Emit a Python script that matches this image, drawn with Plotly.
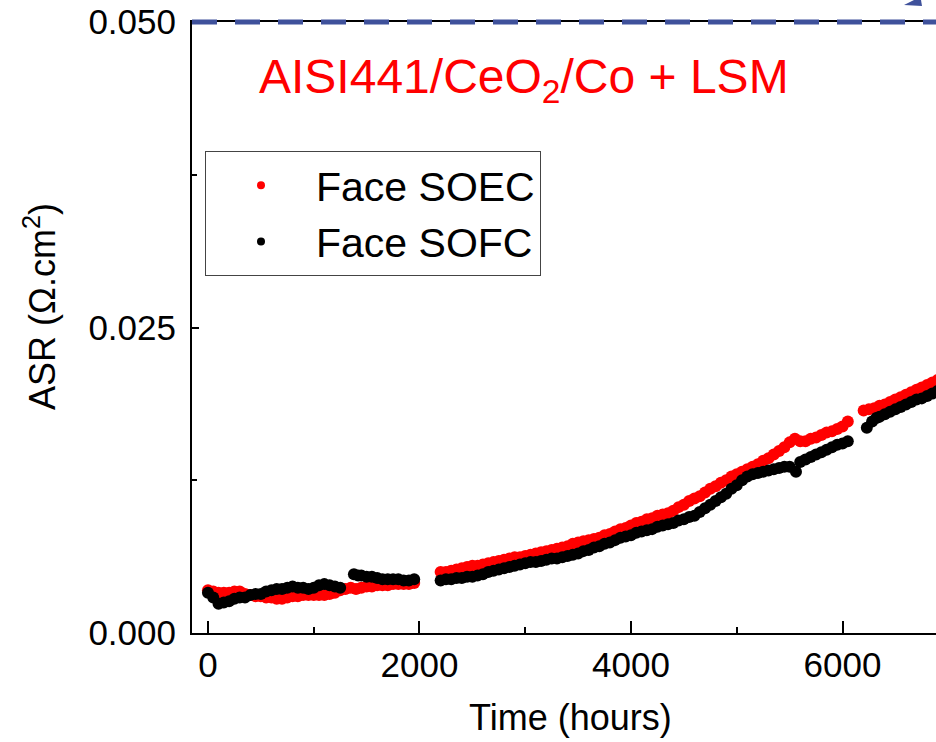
import plotly.graph_objects as go

# ---- data ----
soec_time = [0, 50, 100, 150, 200, 250, 300, 350, 400, 450, 500, 550, 600, 650, 700, 750, 800, 850,
             900, 950, 1000, 1050, 1100, 1150, 1200, 1250, 1300, 1350, 1400, 1450, 1500, 1550, 1600,
             1650, 1700, 1750, 1800, 1850, 1900, 1950,
             2200, 2250, 2300, 2350, 2400, 2450, 2500, 2550, 2600, 2650, 2700, 2750, 2800, 2850,
             2900, 2950, 3000, 3050, 3100, 3150, 3200, 3250, 3300, 3350, 3400, 3450, 3500, 3550,
             3600, 3650, 3700, 3750, 3800, 3850, 3900, 3950, 4000, 4050, 4100, 4150, 4200, 4250,
             4300, 4350, 4400, 4450, 4500, 4550, 4600, 4650, 4700, 4750, 4800, 4850, 4900, 4950,
             5000, 5050, 5100, 5150, 5200, 5250, 5300, 5350, 5400, 5450, 5500, 5550, 5600, 5650,
             5700, 5750, 5800, 5850, 5900, 5950, 6000, 6050,
             6200, 6250, 6300, 6350, 6400, 6450, 6500, 6550, 6600, 6650, 6700, 6750, 6800, 6850, 6900]
soec_asr = [0.0035, 0.0034, 0.0033, 0.0033, 0.0033, 0.0034, 0.0034, 0.0032, 0.0031, 0.0030, 0.0030,
            0.0029, 0.0029, 0.0028, 0.0028, 0.0029, 0.0030, 0.0030, 0.0031, 0.0031, 0.0031, 0.0031,
            0.0031, 0.0032, 0.0033, 0.0035, 0.0036, 0.0037, 0.0036, 0.0037, 0.0038, 0.0038, 0.0039,
            0.0039, 0.0039, 0.0040, 0.0040, 0.0040, 0.0040, 0.0041,
            0.0050, 0.0050, 0.0051, 0.0052, 0.0053, 0.0054, 0.0055, 0.0055, 0.0056, 0.0057, 0.0058,
            0.0059, 0.0060, 0.0061, 0.0062, 0.0062, 0.0063, 0.0064, 0.0065, 0.0066, 0.0067, 0.0068,
            0.0069, 0.0070, 0.0071, 0.0073, 0.0074, 0.0075, 0.0076, 0.0077, 0.0078, 0.0080, 0.0081,
            0.0083, 0.0085, 0.0086, 0.0088, 0.0090, 0.0091, 0.0093, 0.0094, 0.0096, 0.0097, 0.0098,
            0.0100, 0.0103, 0.0105, 0.0108, 0.0110, 0.0112, 0.0115, 0.0118, 0.0120, 0.0123, 0.0125,
            0.0128, 0.0130, 0.0132, 0.0134, 0.0136, 0.0138, 0.0141, 0.0143, 0.0146, 0.0149, 0.0152,
            0.0156, 0.0159, 0.0157, 0.0157, 0.0159, 0.0160, 0.0162, 0.0164, 0.0165, 0.0167, 0.0169,
            0.0173,
            0.0182, 0.0183, 0.0184, 0.0186, 0.0187, 0.0189, 0.0191, 0.0193, 0.0195, 0.0197, 0.0199,
            0.0201, 0.0203, 0.0205, 0.0207]

sofc_time = [0, 50, 100, 150, 200, 250, 300, 350, 400, 450, 500, 550, 600, 650, 700, 750, 800, 850,
             900, 950, 1000, 1050, 1100, 1150, 1200, 1250,
             1380, 1420, 1450, 1500, 1550, 1600, 1650, 1700, 1750, 1800, 1850, 1900, 1950,
             2200, 2250, 2300, 2350, 2400, 2450, 2500, 2550, 2600, 2650, 2700, 2750, 2800, 2850,
             2900, 2950, 3000, 3050, 3100, 3150, 3200, 3250, 3300, 3350, 3400, 3450, 3500, 3550,
             3600, 3650, 3700, 3750, 3800, 3850, 3900, 3950, 4000, 4050, 4100, 4150, 4200, 4250,
             4300, 4350, 4400, 4450, 4500, 4550, 4600, 4650, 4700, 4750, 4800, 4850, 4900, 4950,
             5000, 5050, 5100, 5150, 5200, 5250, 5300, 5350, 5400, 5450, 5500, 5560, 5600, 5650,
             5700, 5750, 5800, 5850, 5900, 5950, 6000, 6050,
             6230, 6280, 6320, 6350, 6400, 6450, 6500, 6550, 6600, 6650, 6700, 6750, 6800, 6850, 6900]
sofc_asr = [0.0033, 0.0029, 0.0024, 0.0025, 0.0026, 0.0028, 0.0029, 0.0029, 0.0031, 0.0032, 0.0032,
            0.0034, 0.0035, 0.0036, 0.0036, 0.0037, 0.0038, 0.0037, 0.0037, 0.0036, 0.0037, 0.0039,
            0.0040, 0.0039, 0.0038, 0.0037,
            0.0048, 0.0047, 0.0047, 0.0046, 0.0046, 0.0045, 0.0044, 0.0044, 0.0044, 0.0044, 0.0043,
            0.0043, 0.0044,
            0.0043, 0.0044, 0.0044, 0.0045, 0.0045, 0.0046, 0.0046, 0.0047, 0.0048, 0.0050, 0.0051,
            0.0052, 0.0053, 0.0054, 0.0055, 0.0056, 0.0057, 0.0058, 0.0058, 0.0059, 0.0060, 0.0061,
            0.0061, 0.0062, 0.0063, 0.0064, 0.0065, 0.0067, 0.0068, 0.0070, 0.0071, 0.0073, 0.0074,
            0.0076, 0.0078, 0.0079, 0.0080, 0.0082, 0.0083, 0.0084, 0.0085, 0.0087, 0.0088, 0.0089,
            0.0090, 0.0092, 0.0093, 0.0095, 0.0096, 0.0099, 0.0102, 0.0105, 0.0108, 0.0111, 0.0114,
            0.0118, 0.0121, 0.0125, 0.0128, 0.0130, 0.0131, 0.0132, 0.0133, 0.0134, 0.0135, 0.0136,
            0.0136, 0.0132, 0.0140, 0.0142, 0.0144, 0.0146, 0.0148, 0.0150, 0.0152, 0.0154, 0.0155,
            0.0157,
            0.0168, 0.0173, 0.0176, 0.0177, 0.0179, 0.0181, 0.0183, 0.0185, 0.0187, 0.0189, 0.0191,
            0.0192, 0.0194, 0.0196, 0.0198]

x_ticks = [0, 2000, 4000, 6000]
y_ticks = [0.000, 0.025, 0.050]
series_names = ["Face SOEC", "Face SOFC"]
series_colors = ["#ff0000", "#000000"]

FONT = "Arial, Liberation Sans, sans-serif"

fig = go.Figure()
fig.add_trace(go.Scatter(x=soec_time, y=soec_asr, mode="markers", showlegend=False,
                         marker=dict(color=series_colors[0], size=12, line=dict(width=0))))
fig.add_trace(go.Scatter(x=sofc_time, y=sofc_asr, mode="markers", showlegend=False,
                         marker=dict(color=series_colors[1], size=12, line=dict(width=0))))
# legend entries
for name, col in zip(series_names, series_colors):
    fig.add_trace(go.Scatter(x=[None], y=[None], mode="markers", name=name,
                             marker=dict(color=col, size=8)))

axis_common = dict(showline=True, linecolor="black", linewidth=2, showgrid=False, zeroline=False,
                   ticks="inside", tickcolor="black", tickwidth=2,
                   tickfont=dict(family=FONT, size=35, color="black"))

fig.update_xaxes(range=[-151, 6884], tickvals=x_ticks, ticklen=12, mirror=True,
                 ticklabelstandoff=0,
                 minor=dict(dtick=1000, tick0=0, ticks="inside", ticklen=6, tickcolor="black", tickwidth=2),
                 **axis_common)
fig.update_yaxes(range=[0, 0.05], tickvals=y_ticks, tickformat=".3f", ticklen=7, mirror=False,
                 ticklabelstandoff=7,
                 minor=dict(dtick=0.0125, tick0=0, ticks="inside", ticklen=5, tickcolor="black", tickwidth=2),
                 **axis_common)

W, H = 936, 742
L, T, B = 192, 22, 109
pw, ph = W - L, H - T - B

def px(xp):
    return (xp - L) / pw

def py(yp):
    return (H - B - yp) / ph

fig.update_layout(
    width=W, height=H,
    margin=dict(l=L, r=0, t=T, b=B, pad=0),
    paper_bgcolor="white", plot_bgcolor="white",
    font=dict(family=FONT, color="black"),
    legend=dict(x=px(205), y=py(151), xanchor="left", yanchor="top",
                bordercolor="#444444", borderwidth=1, bgcolor="white",
                font=dict(family=FONT, size=41, color="black"),
                itemwidth=100, tracegroupgap=0),
    shapes=[
        dict(type="line", xref="paper", yref="paper", x0=0, x1=1, y0=1, y1=1,
             line=dict(color="#3f519b", width=5, dash="25px,18px")),
        dict(type="path", xref="paper", yref="paper",
             path=f"M {px(904)},{py(5)} L {px(922)},{py(6)} L {px(921)},{py(0)} L {px(914)},{py(0)} Z",
             fillcolor="#3f519b", line=dict(width=0)),
    ],
    annotations=[
        dict(text="AISI441/CeO<sub>2</sub>/Co + LSM", xref="paper", yref="paper",
             x=px(257), y=py(80), xanchor="left", yanchor="middle", showarrow=False,
             font=dict(family=FONT, size=48, color="#ff0000")),
        dict(text="Time (hours)", xref="paper", yref="paper", x=px(570), y=py(717),
             xanchor="center", yanchor="middle", showarrow=False,
             font=dict(family=FONT, size=36, color="black")),
        dict(text="ASR (Ω.cm<sup>2</sup>)", xref="paper", yref="paper", x=px(40), y=py(307),
             xanchor="center", yanchor="middle", textangle=-90, showarrow=False,
             font=dict(family=FONT, size=36, color="black")),
    ],
)

fig.write_html("out.html", config={"displayModeBar": False},
               post_script="document.body.style.margin='0px';document.body.style.overflow='hidden';")
